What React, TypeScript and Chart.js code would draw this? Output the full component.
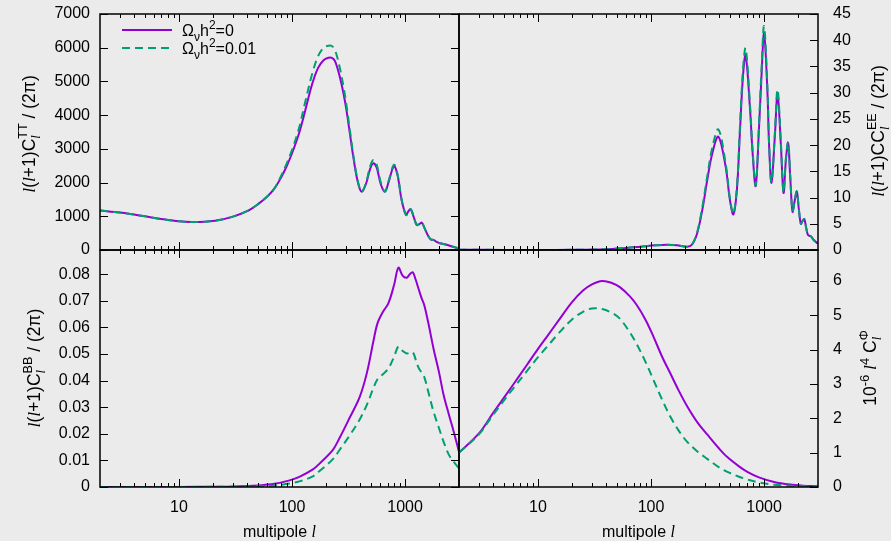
import React, { useEffect, useRef } from "react";
import { Chart, registerables } from "chart.js";
Chart.register(...registerables);

const W = 891;
const H = 541;
const BG = "#ebebeb";
const PURPLE = "#9400d3";
const GREEN = "#009e73";
const FONT = "'Liberation Sans', Arial, sans-serif";

// ---- axis ticks ----
const xMajorTicks = [10, 100, 1000];
const xMinorTicks = [2, 3, 4, 5, 6, 7, 8, 9, 20, 30, 40, 50, 60, 70, 80, 90, 200, 300, 400, 500, 600, 700, 800, 900, 2000, 3000];
const ttTicks = [0, 1000, 2000, 3000, 4000, 5000, 6000, 7000];
const eeTicks = [0, 5, 10, 15, 20, 25, 30, 35, 40, 45];
const bbTicks = [0, 0.01, 0.02, 0.03, 0.04, 0.05, 0.06, 0.07, 0.08];
const phiTicks = [0, 1, 2, 3, 4, 5, 6];

const legendLabels = ["0", "0.01"];

// ---- TT ----
const ttL = [2, 3, 4, 5, 7, 10, 13, 17, 22, 30, 40, 50, 60, 70, 80, 90, 100, 115, 130, 150, 170, 190, 210, 225, 240, 264, 285, 303, 325, 348, 380, 412, 450, 490, 523, 560, 610, 664, 720, 798, 860, 930, 1020, 1070, 1124, 1200, 1270, 1340, 1406, 1500, 1612, 1700, 1790, 1900, 2000, 2370, 2700, 3000];
const ttNu0 = [1170, 1110, 1050, 1000, 920, 850, 830, 840, 880, 990, 1150, 1360, 1580, 1830, 2150, 2500, 2870, 3450, 4100, 4900, 5400, 5630, 5700, 5700, 5600, 5150, 4650, 4150, 3450, 2770, 2050, 1730, 1950, 2400, 2570, 2450, 1950, 1730, 2050, 2490, 2200, 1500, 1040, 1150, 1206, 950, 741, 770, 810, 620, 400, 310, 297, 240, 210, 148, 90, 45];
const ttNu1 = [1170, 1110, 1050, 1000, 920, 850, 830, 840, 880, 990, 1150, 1360, 1580, 1830, 2200, 2580, 2970, 3600, 4350, 5200, 5750, 6000, 6060, 6050, 5930, 5420, 4850, 4300, 3550, 2830, 2080, 1730, 1980, 2470, 2670, 2540, 2000, 1730, 2080, 2530, 2230, 1510, 1035, 1150, 1215, 955, 741, 775, 815, 620, 400, 310, 297, 240, 210, 148, 90, 45];

// ---- EE ----
const eeL = [2, 5, 10, 20, 40, 60, 80, 110, 138, 170, 208, 230, 256, 285, 314, 348, 394, 457, 499, 535, 575, 610, 650, 687, 752, 789, 843, 903, 948, 1000, 1072, 1106, 1163, 1245, 1316, 1406, 1487, 1560, 1633, 1703, 1786, 1870, 1950, 2030, 2117, 2200, 2270, 2350, 2431, 2520, 2600, 2750, 2885, 3000];
const eeNu0 = [0.05, 0.02, 0.01, 0.03, 0.15, 0.4, 0.63, 0.9, 1.0, 0.9, 0.63, 1.0, 3.2, 7.8, 13.3, 18.4, 21.6, 15.9, 9.5, 6.8, 11.5, 22, 33, 37.2, 26.7, 19, 12.2, 23.5, 33, 41.3, 29.9, 20.3, 12.8, 21.6, 29.8, 20.3, 10.9, 17.2, 20.4, 14, 7.3, 9.5, 11.1, 7.8, 5.0, 5.6, 5.9, 4.4, 3.0, 2.7, 2.6, 1.9, 1.5, 1.2];
const eeNu1 = [0.05, 0.02, 0.01, 0.03, 0.15, 0.4, 0.63, 0.9, 1.0, 0.9, 0.63, 1.05, 3.4, 8.3, 14.0, 19.5, 23.0, 16.5, 9.8, 6.9, 12, 23, 34.3, 38.5, 27.5, 19.5, 12.3, 24.3, 34.2, 42.7, 30.8, 20.8, 12.9, 22.2, 30.6, 20.8, 11.0, 17.5, 20.6, 14.2, 7.4, 9.6, 11.2, 7.9, 5.0, 5.6, 5.9, 4.4, 3.0, 2.7, 2.6, 1.9, 1.5, 1.2];

// ---- BB ----
const bbL = [2, 10, 20, 30, 50, 70, 95, 116, 153, 175, 230, 264, 325, 398, 460, 523, 570, 640, 711, 800, 873, 950, 1036, 1100, 1170, 1240, 1312, 1400, 1475, 1600, 1786, 2000, 2193, 2450, 2694, 3000];
const bbNu0 = [0, 0.00002, 0.0001, 0.0002, 0.0006, 0.0012, 0.0025, 0.0038, 0.0066, 0.0088, 0.014, 0.0185, 0.0262, 0.034, 0.043, 0.0545, 0.0615, 0.066, 0.069, 0.076, 0.0825, 0.0795, 0.0787, 0.08, 0.0807, 0.078, 0.0747, 0.071, 0.0685, 0.062, 0.052, 0.043, 0.0346, 0.027, 0.0208, 0.0133];
const bbNu1 = [0, 0.00001, 0.00005, 0.0001, 0.0003, 0.0006, 0.0013, 0.0021, 0.004, 0.006, 0.0105, 0.014, 0.0195, 0.0255, 0.031, 0.037, 0.0405, 0.0425, 0.0445, 0.049, 0.0528, 0.0512, 0.0502, 0.0505, 0.0507, 0.048, 0.045, 0.043, 0.0415, 0.036, 0.0283, 0.022, 0.017, 0.012, 0.0095, 0.007];

// ---- lensing potential ----
const phiL = [2, 3, 4, 5, 6, 8, 10, 12, 15, 20, 25, 30, 37, 45, 53, 65, 75, 90, 105, 125, 148, 175, 208, 260, 314, 400, 473, 600, 711, 900, 1228, 1700, 2200, 3000];
const phiNu0 = [1.0, 1.56, 2.15, 2.6, 2.97, 3.56, 4.02, 4.38, 4.82, 5.38, 5.72, 5.9, 6.0, 5.94, 5.82, 5.55, 5.29, 4.85, 4.38, 3.8, 3.31, 2.82, 2.36, 1.86, 1.53, 1.12, 0.87, 0.6, 0.44, 0.28, 0.146, 0.07, 0.04, 0.02];
const phiNu1 = [1.0, 1.53, 2.1, 2.52, 2.86, 3.38, 3.78, 4.08, 4.45, 4.88, 5.1, 5.2, 5.18, 5.07, 4.9, 4.5, 4.15, 3.62, 3.12, 2.55, 2.05, 1.65, 1.32, 1.02, 0.82, 0.57, 0.44, 0.3, 0.22, 0.13, 0.065, 0.035, 0.02, 0.01];

type Area = { left: number; top: number; right: number; bottom: number };
type Spec = {
  area: Area;
  l: number[];
  a: number[];
  b: number[];
  yMax: number;
  yTicks: number[];
  ySide: "left" | "right";
  xLabels: boolean;
  fmt: (v: number) => string;
  legend?: boolean;
};

const fmtInt = (v: number) => String(Math.round(v));
const fmt2 = (v: number) => (v === 0 ? "0" : v.toFixed(2));

const specs: Spec[] = [
  { area: { left: 100, top: 14, right: 459, bottom: 250 }, l: ttL, a: ttNu0, b: ttNu1, yMax: 7000, yTicks: ttTicks, ySide: "left", xLabels: false, fmt: fmtInt, legend: true },
  { area: { left: 459, top: 14, right: 818, bottom: 250 }, l: eeL, a: eeNu0, b: eeNu1, yMax: 45, yTicks: eeTicks, ySide: "right", xLabels: false, fmt: fmtInt },
  { area: { left: 100, top: 250, right: 459, bottom: 487 }, l: bbL, a: bbNu0, b: bbNu1, yMax: 0.0891, yTicks: bbTicks, ySide: "left", xLabels: true, fmt: fmt2 },
  { area: { left: 459, top: 250, right: 818, bottom: 487 }, l: phiL, a: phiNu0, b: phiNu1, yMax: 6.9, yTicks: phiTicks, ySide: "right", xLabels: true, fmt: fmtInt },
];

function makeFramePlugin(spec: Spec) {
  return {
    id: "frame",
    afterDatasetsDraw(chart: any) {
      const { ctx, chartArea: a, scales } = chart;
      const xs = scales.x;
      const ys = scales.y;
      ctx.save();
      ctx.strokeStyle = "#000";
      ctx.lineWidth = 1;
      ctx.beginPath();
      const xt = (vals: number[], len: number) => {
        for (const v of vals) {
          const px = Math.round(xs.getPixelForValue(v)) + 0.5;
          if (px <= a.left + 1 || px >= a.right - 1) continue;
          ctx.moveTo(px, a.bottom);
          ctx.lineTo(px, a.bottom - len);
          ctx.moveTo(px, a.top);
          ctx.lineTo(px, a.top + len);
        }
      };
      xt(xMajorTicks, 8);
      xt(xMinorTicks, 4);
      for (const v of spec.yTicks) {
        const py = Math.round(ys.getPixelForValue(v)) + 0.5;
        if (spec.ySide === "left") {
          ctx.moveTo(a.left, py);
          ctx.lineTo(a.left + 8, py);
          ctx.moveTo(a.right, py);
          ctx.lineTo(a.right - 8, py);
        } else {
          ctx.moveTo(a.right, py);
          ctx.lineTo(a.right - 8, py);
        }
      }
      ctx.stroke();
      ctx.lineWidth = 1.5;
      ctx.strokeRect(a.left, a.top, a.right - a.left, a.bottom - a.top);
      if (spec.legend) {
        ctx.lineWidth = 2;
        ctx.strokeStyle = PURPLE;
        ctx.beginPath();
        ctx.moveTo(122, 30);
        ctx.lineTo(172, 30);
        ctx.stroke();
        ctx.strokeStyle = GREEN;
        ctx.setLineDash([8, 5]);
        ctx.beginPath();
        ctx.moveTo(122, 48);
        ctx.lineTo(172, 48);
        ctx.stroke();
      }
      ctx.restore();
    },
  };
}

function Panel({ spec }: { spec: Spec }) {
  const ref = useRef<HTMLCanvasElement | null>(null);
  useEffect(() => {
    if (!ref.current) return;
    const { area, ySide, xLabels } = spec;
    const chart = new Chart(ref.current, {
      type: "line",
      data: {
        datasets: [
          { data: spec.l.map((x, i) => ({ x, y: spec.a[i] })), borderColor: PURPLE, borderWidth: 2, order: 2 },
          { data: spec.l.map((x, i) => ({ x, y: spec.b[i] })), borderColor: GREEN, borderWidth: 2, borderDash: [8, 5], order: 1 },
        ],
      },
      options: {
        responsive: false,
        animation: false,
        devicePixelRatio: 1,
        events: [],
        layout: {
          padding: {
            left: ySide === "left" ? 0 : area.left,
            right: ySide === "right" ? 0 : W - area.right,
            top: area.top,
            bottom: xLabels ? 0 : H - area.bottom,
          },
        },
        elements: {
          point: { radius: 0 },
          line: { tension: 0.35, fill: false },
        },
        plugins: { legend: { display: false }, tooltip: { enabled: false } },
        scales: {
          x: {
            type: "logarithmic",
            min: 2,
            max: 3000,
            display: xLabels,
            position: "bottom",
            grid: { display: false, drawTicks: false },
            border: { display: false },
            ticks: {
              font: { family: FONT, size: 16 },
              color: "#000",
              padding: 11,
              maxRotation: 0,
              autoSkip: false,
              callback: (v: any) => String(v),
            },
            afterBuildTicks: (s: any) => {
              s.ticks = xMajorTicks.map((v) => ({ value: v }));
            },
            afterFit: (s: any) => {
              s.height = xLabels ? H - area.bottom : 0;
              s.paddingLeft = 0;
              s.paddingRight = 0;
              s.paddingTop = 0;
              s.paddingBottom = 0;
            },
          },
          y: {
            type: "linear",
            min: 0,
            max: spec.yMax,
            position: ySide,
            grid: { display: false, drawTicks: false },
            border: { display: false },
            ticks: {
              font: { family: FONT, size: 16 },
              color: "#000",
              padding: ySide === "left" ? 10 : 15,
              autoSkip: false,
              callback: (v: any) => spec.fmt(Number(v)),
            },
            afterBuildTicks: (s: any) => {
              s.ticks = spec.yTicks.map((v) => ({ value: v }));
            },
            afterFit: (s: any) => {
              s.width = ySide === "left" ? area.left : W - area.right;
              s.paddingLeft = 0;
              s.paddingRight = 0;
              s.paddingTop = 0;
              s.paddingBottom = 0;
            },
          },
        },
      } as any,
      plugins: [makeFramePlugin(spec)],
    });
    return () => chart.destroy();
  }, [spec]);
  return <canvas ref={ref} width={W} height={H} style={{ position: "absolute", left: 0, top: 0, display: "block" }} />;
}

const IL = () => <i style={{ fontFamily: "'Liberation Serif', serif" }}>l</i>;

const SS = ({ sup, sub }: { sup: React.ReactNode; sub: React.ReactNode }) => (
  <span style={{ display: "inline-grid", fontSize: "0.72em", lineHeight: 1, verticalAlign: "baseline" }}>
    <span style={{ gridArea: "1 / 1", transform: "translateY(-0.62em)" }}>{sup}</span>
    <span style={{ gridArea: "1 / 1", transform: "translateY(0.42em)" }}>{sub}</span>
  </span>
);

const Rot = ({ cx, cy, children }: { cx: number; cy: number; children: React.ReactNode }) => (
  <div
    style={{
      position: "absolute",
      left: cx,
      top: cy,
      transform: "translate(-50%, -50%) rotate(-90deg)",
      whiteSpace: "nowrap",
      fontSize: 17.5,
      lineHeight: "22px",
    }}
  >
    {children}
  </div>
);

const LegendText = ({ top, value }: { top: number; value: string }) => (
  <div style={{ position: "absolute", left: 182, top, fontSize: 16, lineHeight: "16px", whiteSpace: "nowrap" }}>
    Ω<span style={{ fontSize: 12, position: "relative", top: 5 }}>ν</span>h
    <span style={{ fontSize: 12, position: "relative", top: -7 }}>2</span>={value}
  </div>
);

export default function App() {
  return (
    <div
      style={{
        position: "absolute",
        left: 0,
        top: 0,
        width: W,
        height: H,
        background: BG,
        overflow: "hidden",
        fontFamily: FONT,
        color: "#000",
      }}
    >
      {specs.map((s, i) => (
        <Panel key={i} spec={s} />
      ))}
      <LegendText top={23} value={legendLabels[0]} />
      <LegendText top={41} value={legendLabels[1]} />
      <Rot cx={29} cy={134}>
        <IL />(<IL />+1)C<SS sup="TT" sub={<IL />} /> / (2π)
      </Rot>
      <Rot cx={34} cy={368}>
        <IL />(<IL />+1)C<SS sup="BB" sub={<IL />} /> / (2π)
      </Rot>
      <Rot cx={878} cy={131}>
        <IL />(<IL />+1)CC<SS sup="EE" sub={<IL />} /> / (2π)
      </Rot>
      <Rot cx={871} cy={368}>
        10<span style={{ fontSize: 13, position: "relative", top: -7 }}>-6</span> <IL />
        <span style={{ fontSize: 13, position: "relative", top: -7 }}>4</span> C<SS sup="Φ" sub={<IL />} />
      </Rot>
      <div style={{ position: "absolute", left: 279.5, top: 524, transform: "translateX(-50%)", fontSize: 16, lineHeight: "16px", whiteSpace: "nowrap" }}>
        multipole <IL />
      </div>
      <div style={{ position: "absolute", left: 638.5, top: 524, transform: "translateX(-50%)", fontSize: 16, lineHeight: "16px", whiteSpace: "nowrap" }}>
        multipole <IL />
      </div>
    </div>
  );
}
